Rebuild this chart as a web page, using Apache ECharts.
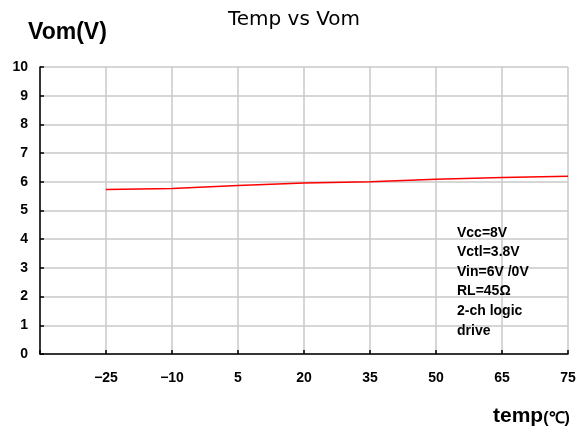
<!DOCTYPE html>
<html>
<head>
<meta charset="utf-8">
<script src="https://cdn.jsdelivr.net/npm/echarts@6/dist/echarts.min.js"></script>
<style>html,body{margin:0;padding:0;background:#fff;}#c{width:582px;height:434px;}</style>
</head>
<body>
<div id="c"></div>
<script>
var categories = ['', '-25', '-10', '5', '20', '35', '50', '65', '75'];
var tickLabels = ['', '\u221225', '\u221210', '5', '20', '35', '50', '65', '75'];
var vomValues = [null, 5.73, 5.77, 5.87, 5.96, 6.0, 6.09, 6.15, 6.19];
var yTicks = [0, 1, 2, 3, 4, 5, 6, 7, 8, 9, 10];
var noteLines = ['Vcc=8V', 'Vctl=3.8V', 'Vin=6V /0V', 'RL=45\u03a9', '2-ch logic', 'drive'];

var chart = echarts.init(document.getElementById('c'), null, {renderer: 'canvas'});
var font = 'Liberation Sans, Arial, sans-serif';
chart.setOption({
  animation: false,
  backgroundColor: '#ffffff',
  title: [
    {text: 'Temp vs Vom', left: 294, top: 10, padding: 0, textAlign: 'center',
     textStyle: {fontFamily: 'DejaVu Sans', fontSize: 20, fontWeight: 'normal', color: '#000'}},
    {text: 'Vom(V)', left: 28, top: 21, padding: 0,
     textStyle: {fontFamily: font, fontSize: 23, fontWeight: 'bold', color: '#000'}},
    {text: '{a|temp}{b|(\u2103)}', left: 493, top: 406, padding: 0,
     textStyle: {rich: {
       a: {fontFamily: font, fontSize: 21, fontWeight: 'bold', color: '#000'},
       b: {fontFamily: font, fontSize: 16, fontWeight: 'bold', color: '#000', verticalAlign: 'bottom'}
     }}},
    {text: noteLines.join('\n'), left: 457, top: 223, padding: 0,
     textStyle: {fontFamily: font, fontSize: 14, fontWeight: 'bold', color: '#000', lineHeight: 19.6}}
  ],
  grid: {left: 40, right: 14, top: 67, bottom: 80, containLabel: false},
  xAxis: {
    type: 'category',
    data: categories,
    boundaryGap: false,
    axisLine: {lineStyle: {color: '#000', width: 1.5}},
    axisTick: {inside: true, length: 4, lineStyle: {color: '#000', width: 1.5}, alignWithLabel: true},
    axisLabel: {
      margin: 17, fontFamily: font, fontSize: 14, fontWeight: 'bold', color: '#000',
      formatter: function (v, i) { return tickLabels[i]; }
    },
    splitLine: {show: true, lineStyle: {color: '#c8c8c8', width: 1.5}}
  },
  yAxis: {
    type: 'value',
    min: yTicks[0],
    max: yTicks[yTicks.length - 1],
    interval: 1,
    axisLine: {show: true, lineStyle: {color: '#000', width: 1.5}},
    axisTick: {show: true, inside: true, length: 4, lineStyle: {color: '#000', width: 1.5}},
    axisLabel: {margin: 12, fontFamily: font, fontSize: 14, fontWeight: 'bold', color: '#000'},
    splitLine: {show: true, lineStyle: {color: '#c8c8c8', width: 1.5}}
  },
  series: [{
    type: 'line',
    data: vomValues,
    symbol: 'none',
    lineStyle: {color: '#ff0000', width: 1.5},
    connectNulls: false
  }]
});
</script>
</body>
</html>
